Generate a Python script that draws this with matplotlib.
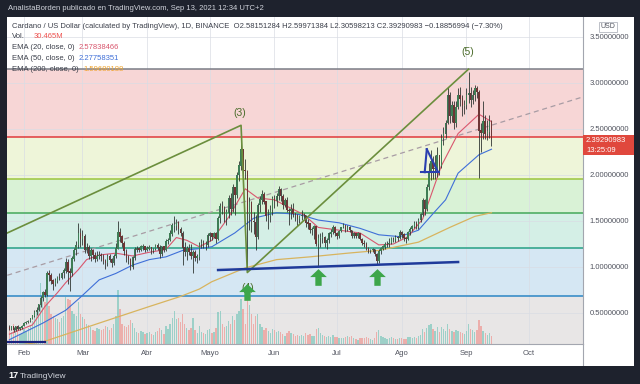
import numpy as np
import pandas as pd
import matplotlib
matplotlib.use('Agg')
import matplotlib.pyplot as plt
from matplotlib.path import Path
from matplotlib.patches import Rectangle

plt.rcParams['font.family'] = ['Liberation Sans', 'DejaVu Sans']

# ---- daily ADA/USD candles, 2021-01-25 .. 2021-09-13 ----
first_open = 0.34
close = [
    0.33, 0.35, 0.31, 0.35, 0.33, 0.34, 0.36,
    0.39, 0.40, 0.41, 0.44, 0.47, 0.51, 0.53, 0.59, 0.66, 0.72, 0.70, 0.93, 0.91, 0.85, 0.81, 0.85, 0.89, 0.88, 0.93, 0.96, 1.05, 0.95, 0.93, 1.09, 1.18, 1.24, 1.36, 1.30,
    1.33, 1.18, 1.21, 1.12, 1.18, 1.13, 1.09, 1.12, 1.13, 1.12, 1.06, 1.04, 1.12, 1.08, 1.04, 1.12, 1.20, 1.38, 1.33, 1.26, 1.17, 1.10, 1.08, 1.00, 1.10, 1.19, 1.20, 1.19, 1.22, 1.22, 1.19,
    1.20, 1.21, 1.17, 1.20, 1.23, 1.21, 1.14, 1.22, 1.19, 1.28, 1.29, 1.36, 1.45, 1.45, 1.48, 1.41, 1.37, 1.21, 1.16, 1.20, 1.16, 1.12, 1.16, 1.10, 1.11, 1.25, 1.26, 1.24, 1.24, 1.34,
    1.36, 1.33, 1.36, 1.30, 1.53, 1.66, 1.64, 1.52, 1.59, 1.75, 1.63, 1.87, 1.78, 2.00, 2.10, 2.28, 2.05, 2.04, 1.58, 1.70, 1.50, 1.49, 1.33, 1.67, 1.73, 1.79, 1.71, 1.55, 1.55, 1.62, 1.75,
    1.72, 1.77, 1.84, 1.77, 1.67, 1.72, 1.62, 1.61, 1.63, 1.58, 1.56, 1.52, 1.55, 1.56, 1.56, 1.48, 1.47, 1.40, 1.41, 1.44, 1.25, 1.31, 1.32, 1.32, 1.26, 1.29, 1.36, 1.38, 1.43, 1.37,
    1.34, 1.39, 1.43, 1.45, 1.40, 1.43, 1.40, 1.34, 1.36, 1.34, 1.36, 1.30, 1.26, 1.25, 1.20, 1.17, 1.18, 1.19, 1.14, 1.06, 1.17, 1.20, 1.22, 1.25, 1.25, 1.26, 1.31, 1.30, 1.32, 1.31, 1.38,
    1.35, 1.31, 1.30, 1.38, 1.41, 1.44, 1.47, 1.44, 1.51, 1.57, 1.72, 1.63, 1.87, 2.04, 2.15, 2.06, 2.07, 2.21, 2.10, 2.40, 2.45, 2.56, 2.87, 2.64, 2.76, 2.56, 2.74, 2.86, 2.83, 2.75, 2.76,
    2.87, 2.89, 2.82, 2.87, 2.94, 2.90, 2.48, 2.46, 2.58, 2.44, 2.47, 2.58, 2.39,
]
high = [
    0.37, 0.36, 0.35, 0.36, 0.37, 0.35, 0.37,
    0.40, 0.41, 0.42, 0.45, 0.48, 0.53, 0.56, 0.60, 0.68, 0.74, 0.76, 0.96, 0.97, 0.94, 0.87, 0.88, 0.90, 0.93, 0.95, 0.99, 1.10, 1.09, 0.99, 1.12, 1.21, 1.28, 1.48, 1.42,
    1.40, 1.36, 1.26, 1.24, 1.21, 1.20, 1.16, 1.17, 1.17, 1.15, 1.14, 1.09, 1.14, 1.14, 1.10, 1.14, 1.26, 1.50, 1.42, 1.35, 1.28, 1.20, 1.13, 1.10, 1.12, 1.22, 1.23, 1.22, 1.24, 1.25, 1.23,
    1.23, 1.24, 1.22, 1.21, 1.25, 1.26, 1.24, 1.23, 1.23, 1.30, 1.32, 1.40, 1.48, 1.55, 1.52, 1.50, 1.44, 1.39, 1.27, 1.23, 1.25, 1.25, 1.19, 1.18, 1.14, 1.27, 1.30, 1.29, 1.28, 1.37,
    1.38, 1.37, 1.38, 1.38, 1.55, 1.70, 1.72, 1.66, 1.63, 1.78, 1.80, 1.90, 1.85, 2.03, 2.15, 2.47, 2.28, 2.17, 2.05, 1.76, 1.72, 1.60, 1.56, 1.70, 1.77, 1.84, 1.81, 1.72, 1.63, 1.67, 1.77,
    1.78, 1.80, 1.88, 1.86, 1.79, 1.75, 1.76, 1.64, 1.68, 1.70, 1.58, 1.58, 1.57, 1.62, 1.59, 1.57, 1.52, 1.48, 1.44, 1.46, 1.45, 1.36, 1.37, 1.38, 1.34, 1.31, 1.38, 1.41, 1.46, 1.45,
    1.38, 1.40, 1.44, 1.48, 1.45, 1.46, 1.45, 1.40, 1.38, 1.37, 1.38, 1.37, 1.31, 1.29, 1.27, 1.22, 1.20, 1.21, 1.20, 1.15, 1.20, 1.22, 1.24, 1.27, 1.28, 1.32, 1.33, 1.33, 1.35, 1.34, 1.40,
    1.39, 1.37, 1.33, 1.39, 1.43, 1.46, 1.50, 1.50, 1.53, 1.59, 1.75, 1.74, 1.90, 2.13, 2.27, 2.21, 2.22, 2.30, 2.22, 2.45, 2.52, 2.60, 2.96, 2.90, 2.80, 2.80, 2.80, 2.95, 2.96, 2.87, 2.82,
    2.95, 3.12, 2.96, 2.92, 2.98, 2.97, 2.92, 2.57, 2.80, 2.65, 2.60, 2.65, 2.60,
]
low = [
    0.32, 0.31, 0.29, 0.30, 0.31, 0.32, 0.33,
    0.36, 0.38, 0.39, 0.40, 0.43, 0.46, 0.48, 0.52, 0.57, 0.63, 0.67, 0.68, 0.85, 0.82, 0.75, 0.79, 0.83, 0.86, 0.87, 0.88, 0.93, 0.82, 0.74, 0.90, 1.06, 1.13, 1.21, 1.22,
    1.24, 1.15, 1.15, 1.09, 1.07, 1.09, 1.05, 1.07, 1.09, 1.07, 1.03, 0.98, 1.01, 1.05, 1.00, 1.02, 1.10, 1.20, 1.27, 1.22, 1.13, 1.05, 1.03, 0.97, 0.98, 1.08, 1.16, 1.16, 1.17, 1.19, 1.16,
    1.17, 1.18, 1.14, 1.15, 1.18, 1.18, 1.10, 1.12, 1.16, 1.17, 1.25, 1.28, 1.34, 1.38, 1.40, 1.36, 1.34, 1.02, 1.12, 1.08, 1.13, 1.09, 0.93, 1.06, 1.04, 1.08, 1.21, 1.21, 1.19, 1.22,
    1.28, 1.29, 1.32, 1.26, 1.29, 1.48, 1.58, 1.49, 1.46, 1.53, 1.57, 1.60, 1.56, 1.75, 1.93, 2.05, 1.96, 1.96, 0.96, 1.40, 1.38, 1.36, 1.19, 1.30, 1.60, 1.68, 1.68, 1.50, 1.41, 1.49, 1.57,
    1.64, 1.66, 1.73, 1.72, 1.63, 1.65, 1.60, 1.46, 1.52, 1.54, 1.50, 1.45, 1.48, 1.51, 1.52, 1.44, 1.41, 1.37, 1.35, 1.30, 1.23, 1.00, 1.22, 1.26, 1.22, 1.20, 1.26, 1.33, 1.36, 1.34,
    1.30, 1.32, 1.38, 1.42, 1.38, 1.39, 1.38, 1.32, 1.31, 1.32, 1.32, 1.29, 1.24, 1.22, 1.18, 1.15, 1.15, 1.16, 1.12, 1.03, 1.04, 1.14, 1.18, 1.20, 1.22, 1.22, 1.25, 1.27, 1.27, 1.28, 1.30,
    1.31, 1.28, 1.26, 1.29, 1.35, 1.39, 1.42, 1.41, 1.41, 1.49, 1.55, 1.56, 1.61, 1.84, 1.95, 1.96, 1.96, 1.98, 2.00, 2.08, 2.33, 2.40, 2.55, 2.57, 2.58, 2.50, 2.52, 2.72, 2.75, 2.64, 2.66,
    2.72, 2.78, 2.74, 2.77, 2.80, 2.84, 1.97, 2.25, 2.39, 2.39, 2.38, 2.40, 2.31,
]
volume = [
    150, 120, 200, 180, 160, 100, 110,
    150, 130, 160, 190, 230, 280, 320, 380, 610, 500, 420, 560, 380, 300, 280, 260, 250, 220, 260, 280, 470, 450, 440, 330, 300, 280, 420, 300,
    270, 250, 200, 190, 170, 140, 130, 160, 150, 140, 150, 180, 170, 140, 160, 200, 280, 540, 350, 200, 180, 170, 190, 240, 210, 160, 120, 110, 130, 120, 100,
    110, 120, 100, 90, 120, 130, 160, 140, 100, 180, 150, 200, 260, 330, 250, 260, 220, 300, 200, 160, 140, 160, 260, 140, 110, 180, 120, 110, 100, 140,
    150, 110, 120, 160, 320, 330, 200, 170, 180, 230, 200, 280, 240, 300, 330, 450, 350, 200, 440, 390, 300, 200, 280, 300, 200, 170, 140, 160, 130, 110, 150,
    140, 120, 130, 120, 100, 80, 110, 130, 110, 100, 80, 90, 80, 90, 80, 110, 90, 100, 80, 80, 150, 160, 110, 90, 80, 70, 80, 70, 90, 70,
    70, 60, 60, 60, 70, 80, 70, 80, 60, 50, 40, 60, 60, 60, 70, 60, 50, 40, 60, 120, 140, 80, 70, 60, 50, 60, 70, 60, 50, 50, 60,
    60, 50, 50, 70, 70, 60, 70, 60, 80, 90, 150, 120, 160, 190, 200, 150, 130, 170, 120, 170, 150, 130, 200, 150, 130, 120, 140, 130, 120, 110, 100,
    130, 200, 150, 140, 120, 140, 240, 180, 130, 110, 90, 110, 80,
]
start_date = '2021-01-25'

# EMA lines (sampled off the chart)
ema20_dates = ['2021-01-25', '2021-02-05', '2021-02-11', '2021-02-17', '2021-02-21', '2021-02-27', '2021-03-03',
               '2021-03-09', '2021-03-17', '2021-03-25', '2021-04-02', '2021-04-10', '2021-04-15', '2021-04-20',
               '2021-04-26', '2021-05-02', '2021-05-10', '2021-05-18', '2021-05-24', '2021-06-01', '2021-06-07',
               '2021-06-15', '2021-06-22', '2021-07-02', '2021-07-12', '2021-07-21', '2021-07-28', '2021-08-04',
               '2021-08-11', '2021-08-20', '2021-08-28', '2021-09-07', '2021-09-13']
ema20 = [0.27, 0.37, 0.57, 0.72, 0.83, 0.97, 1.08, 1.13, 1.15, 1.12, 1.16, 1.19, 1.32, 1.29, 1.22, 1.29, 1.54,
         1.85, 1.75, 1.73, 1.66, 1.57, 1.43, 1.40, 1.37, 1.24, 1.25, 1.33, 1.52, 2.10, 2.45, 2.66, 2.58]
ema50_dates = ['2021-01-25', '2021-02-10', '2021-02-21', '2021-02-28', '2021-03-09', '2021-03-17', '2021-03-25',
               '2021-04-02', '2021-04-10', '2021-04-18', '2021-04-26', '2021-05-02', '2021-05-13', '2021-05-22',
               '2021-06-02', '2021-06-13', '2021-06-22', '2021-07-02', '2021-07-12', '2021-07-21', '2021-07-31',
               '2021-08-09', '2021-08-16', '2021-08-22', '2021-08-28', '2021-09-07', '2021-09-13']
ema50 = [0.21, 0.39, 0.53, 0.67, 0.86, 0.93, 1.02, 1.08, 1.11, 1.18, 1.20, 1.22, 1.37, 1.53, 1.59, 1.57, 1.51,
         1.48, 1.42, 1.35, 1.33, 1.40, 1.58, 1.73, 2.02, 2.22, 2.28]
ema200_dates = ['2021-01-25', '2021-02-10', '2021-03-09', '2021-04-02', '2021-04-17', '2021-04-26', '2021-05-02',
                '2021-05-18', '2021-06-02', '2021-06-18', '2021-07-06', '2021-07-21', '2021-08-09', '2021-08-24',
                '2021-09-05', '2021-09-13']
ema200 = [0.14, 0.185, 0.39, 0.57, 0.68, 0.76, 0.84, 0.99, 1.08, 1.11, 1.15, 1.18, 1.27, 1.43, 1.55, 1.59]

# fibonacci-style bands
fib_levels = [3.152, 2.413, 1.957, 1.587, 1.207, 0.685]
fib_line_colors = ['#7a7d86', '#e0393b', '#9bc53d', '#43a85a', '#26a085', '#2b86c5']
fib_fill_colors = ['#f7d6d6', '#eef5d9', '#d9f2d6', '#d4efe6', '#d5e7f3']
below_fill = '#e8e6e6'

# drawings
wave_dates = ['2021-01-24', '2021-05-16', '2021-05-19', '2021-09-02']
wave_prices = [1.37, 2.54, 0.94, 3.15]
wave_labels = ['(3)', '(4)', '(5)']
wave_label_dates = ['2021-05-15 12:00', '2021-05-19', '2021-09-01 16:00']
wave_label_prices = [2.67, 0.77, 3.34]
trend_dates = ['2021-01-24', '2021-10-27']
trend_prices = [0.91, 2.85]
support_dates = ['2021-05-05', '2021-08-28']
support_prices = [0.967, 1.054]
flag_dates = [['2021-08-13', '2021-08-18'], ['2021-08-10', '2021-08-19'], ['2021-08-13', '2021-08-12']]
flag_prices = [[2.28, 2.05], [2.03, 2.03], [2.28, 2.03]]
arrow_dates = ['2021-05-19', '2021-06-22', '2021-07-20']
arrow_prices = [0.73, 0.89, 0.89]

month_labels = ['Feb', 'Mar', 'Abr', 'Mayo', 'Jun', 'Jul', 'Ago', 'Sep', 'Oct']
month_dates = ['2021-02-01', '2021-03-01', '2021-04-01', '2021-05-01', '2021-06-01', '2021-07-01',
               '2021-08-01', '2021-09-01', '2021-10-01']
price_ticks = [0.5, 1.0, 1.5, 2.0, 2.5, 3.0, 3.5]

# ---- helpers ----
W, H = 640, 384
T0 = pd.Timestamp('2021-02-01')


def to_x(d):
    d = pd.to_datetime(d)
    return np.asarray((d - T0) / pd.Timedelta(days=1), dtype=float)


def rect(x0, y0, x1, y1):
    return [x0 / W, 1 - y1 / H, (x1 - x0) / W, (y1 - y0) / H]


dates = pd.date_range(start_date, periods=len(close), freq='D')
xd = to_x(dates)
c = np.array(close)
o = np.array([first_open] + close[:-1])
hi = np.array(high)
lo = np.array(low)
up = c >= o

fig = plt.figure(figsize=(W / 100, H / 100), dpi=100, facecolor='white')
pane = rect(7, 17, 583, 344)
xlim = (-8.15, 267.85)
ylim = (0.163, 3.717)

# background bands + grid
ax_bg = fig.add_axes(pane, zorder=0)
ax_bg.set_xlim(xlim)
ax_bg.set_ylim(ylim)
ax_bg.axis('off')
for top, bot, col in zip(fib_levels[:-1], fib_levels[1:], fib_fill_colors):
    ax_bg.axhspan(bot, top, color=col, lw=0)
ax_bg.axhspan(ylim[0], fib_levels[-1], color=below_fill, lw=0)
for mx in to_x(month_dates):
    ax_bg.axvline(mx, color='#d9dce4', lw=0.6, alpha=0.8)
for p in price_ticks:
    ax_bg.axhline(p, color='#d9dce4', lw=0.6, alpha=0.8)

# volume overlay
ax_vol = fig.add_axes(pane, zorder=1)
ax_vol.patch.set_visible(False)
ax_vol.set_xlim(xlim)
ax_vol.set_ylim(0, 3270)
ax_vol.axis('off')
ax_vol.bar(xd, volume, width=0.65, color=np.where(up, '#6cc2b5', '#f08a84'), alpha=0.6, lw=0)

# price pane
ax = fig.add_axes(pane, zorder=2)
ax.patch.set_visible(False)
ax.set_xlim(xlim)
ax.set_ylim(ylim)

for lvl, col in zip(fib_levels, fib_line_colors):
    ax.axhline(lvl, color=col, lw=1.1, zorder=2)

ax.plot(to_x(trend_dates), trend_prices, color='#a89ca4', lw=0.9, dashes=(4, 3), zorder=3)
ax.plot(to_x(ema200_dates), ema200, color='#d8b45e', lw=0.9, zorder=3)
ax.plot(to_x(ema50_dates), ema50, color='#3f6fd8', lw=0.8, zorder=3)
ax.plot(to_x(ema20_dates), ema20, color='#d9576e', lw=0.8, zorder=3)
ax.plot(to_x(['2021-01-24', '2021-02-11']), [0.185, 0.185], color='#1a2380', lw=1.6, zorder=3)

# candles
ax.vlines(xd, lo, hi, color='#2f3532', lw=0.6, zorder=4)
ax.bar(xd, np.abs(c - o) + 0.004, bottom=np.minimum(o, c), width=0.7,
       color=np.where(up, '#3e7d55', '#6e3535'), lw=0, zorder=5)

# drawings
ax.plot(to_x(wave_dates), wave_prices, color='#6b8e3d', lw=1.2, zorder=6)
ax.plot(to_x(support_dates), support_prices, color='#1f3a9a', lw=1.8, zorder=6)
for fd, fp in zip(flag_dates, flag_prices):
    ax.plot(to_x(fd), fp, color='#2a3fb0', lw=1.5, zorder=6)
for s, d, p in zip(wave_labels, wave_label_dates, wave_label_prices):
    ax.text(to_x(d), p, s, ha='center', va='center', fontsize=7.5, color='#4a6b2a', zorder=7)

arrow_path = Path([(0, 1), (1, 0.05), (0.38, 0.05), (0.38, -1), (-0.38, -1), (-0.38, 0.05), (-1, 0.05), (0, 1)],
                  [Path.MOVETO] + [Path.LINETO] * 6 + [Path.CLOSEPOLY])
ax.plot(to_x(arrow_dates), arrow_prices, ls='none', marker=arrow_path, markersize=12,
        color='#3da64a', markeredgewidth=0, zorder=8)

# axes cosmetics
ax.yaxis.tick_right()
ax.set_yticks(price_ticks)
ax.set_yticklabels([f'{v:.8f}' for v in price_ticks])
ax.set_xticks(to_x(month_dates))
ax.set_xticklabels(month_labels)
ax.tick_params(axis='y', length=0, pad=5, labelsize=5.5, colors='#50535e')
ax.tick_params(axis='x', length=0, pad=4, labelsize=5.5, colors='#50535e')
for side in ['top', 'left']:
    ax.spines[side].set_visible(False)
for side in ['right', 'bottom']:
    ax.spines[side].set_color('#a3a6af')
    ax.spines[side].set_linewidth(0.8)

# frame: dark bars around the screenshot
dark = '#1e222d'
for x0, y0, x1, y1 in [(0, 0, 640, 17), (0, 0, 7, 384), (634, 0, 640, 384), (0, 366, 640, 384)]:
    fig.add_artist(Rectangle((x0 / W, 1 - y1 / H), (x1 - x0) / W, (y1 - y0) / H,
                             transform=fig.transFigure, color=dark, lw=0, zorder=10))
fig.add_artist(plt.Line2D([583 / W, 583 / W], [1 - 366 / H, 1 - 344 / H], transform=fig.transFigure,
                          color='#a3a6af', lw=0.8))

fig.text(8 / W, 1 - 9 / H, 'AnalistaBorden publicado en TradingView.com, Sep 13, 2021 12:34 UTC+2',
         color='#d1d4dc', fontsize=5.5, va='center', zorder=11)
fig.text(8 / W, 1 - 376 / H, '17', color='white', fontsize=6.5, weight='bold', va='center', zorder=11)
fig.text(20 / W, 1 - 376 / H, 'TradingView', color='#d1d4dc', fontsize=6, va='center', zorder=11)

# legend rows
txt = '#3b3f4a'
fig.text(12 / W, 1 - 26 / H, 'Cardano / US Dollar (calculated by TradingView), 1D, BINANCE  O2.58151284 '
         'H2.59971384 L2.30598213 C2.39290983 \u22120.18856994 (\u22127.30%)',
         color=txt, fontsize=5.5, va='center', zorder=11)
legend_rows = [('Vol.', '30.465M', '#ef5350', 34), ('EMA (20, close, 0)', '2.57838466', '#d9576e', 79),
               ('EMA (50, close, 0)', '2.27758351', '#3f6fd8', 79), ('EMA (200, close, 0)', '1.59680188', '#f0a531', 83)]
for i, (lab, val, col, vx) in enumerate(legend_rows):
    yy = 1 - (37 + 10.7 * i) / H
    fig.text(12 / W, yy, lab, color=txt, fontsize=5.5, va='center', zorder=11)
    fig.text(vx / W, yy, val, color=col, fontsize=5.5, va='center', zorder=11)

# last price tag and currency box
fig.add_artist(Rectangle((583 / W, 1 - 155 / H), 51 / W, 20 / H, transform=fig.transFigure,
                         color='#e0483d', lw=0, zorder=11))
fig.text(586 / W, 1 - 140.5 / H, '2.39290983', color='white', fontsize=5.5, va='center', zorder=12)
fig.text(586 / W, 1 - 150 / H, '13:25:09', color='white', fontsize=5.5, va='center', zorder=12)
fig.text(608 / W, 1 - 27 / H, 'USD', color='#50535e', fontsize=5, ha='center', va='center', zorder=12,
         bbox=dict(boxstyle='square,pad=0.25', fc='white', ec='#b2b5be', lw=0.6))

fig.savefig('out.png', dpi=100, facecolor='white')
